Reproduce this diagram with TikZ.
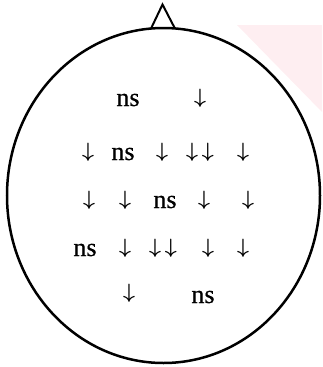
\documentclass[tikz,border=0pt]{standalone}
\usepackage{fontspec}
\setmainfont{Liberation Serif}
\newfontfamily\nsfont[FakeBold=0.5]{Liberation Serif}
\definecolor{faintpink}{RGB}{254,238,241}
\tikzset{
  nslbl/.style={inner sep=0pt, font=\nsfont\fontsize{26}{30}\selectfont},
  arr/.style={inner sep=0pt, font=\boldmath\fontsize{22}{26}\selectfont},
  headline/.style={line width=2.5pt},
}
\begin{document}
\begin{tikzpicture}[x=1pt,y=-1pt]
\useasboundingbox (0,0) rectangle (322,367);
\fill[faintpink] (237,25) -- (322,25) -- (322,112) -- cycle;
\draw[headline] (163.5,195.5) ellipse [x radius=156.5, y radius=167.5];
\coordinate (nl) at (151,28.6);
\coordinate (nt) at (162.5,4.5);
\coordinate (nr) at (175,28.6);
\draw[line width=2pt, line join=miter] (nl) -- (nt) -- (nr);
% row 1
\node[nslbl] (r1a) at (128,100) {ns};
\node[arr] (r1b) at (200,98) {$\downarrow$};
% row 2
\node[arr] (r2a) at (88,152) {$\downarrow$};
\node[nslbl] (r2b) at (123,154) {ns};
\node[arr] (r2c) at (162,152) {$\downarrow$};
\node[arr] (r2d) at (200,152) {$\downarrow\hspace{4pt}\downarrow$};
\node[arr] (r2e) at (243,152) {$\downarrow$};
% row 3
\node[arr] (r3a) at (89,200) {$\downarrow$};
\node[arr] (r3b) at (125,200) {$\downarrow$};
\node[nslbl] (r3c) at (165,202) {ns};
\node[arr] (r3d) at (204,200) {$\downarrow$};
\node[arr] (r3e) at (248,200) {$\downarrow$};
% row 4
\node[nslbl] (r4a) at (85,250) {ns};
\node[arr] (r4b) at (125,248) {$\downarrow$};
\node[arr] (r4c) at (163,248) {$\downarrow\hspace{4pt}\downarrow$};
\node[arr] (r4d) at (208,248) {$\downarrow$};
\node[arr] (r4e) at (243,248) {$\downarrow$};
% row 5
\node[arr] (r5a) at (129,293) {$\downarrow$};
\node[nslbl] (r5b) at (203,297) {ns};
\end{tikzpicture}
\end{document}
